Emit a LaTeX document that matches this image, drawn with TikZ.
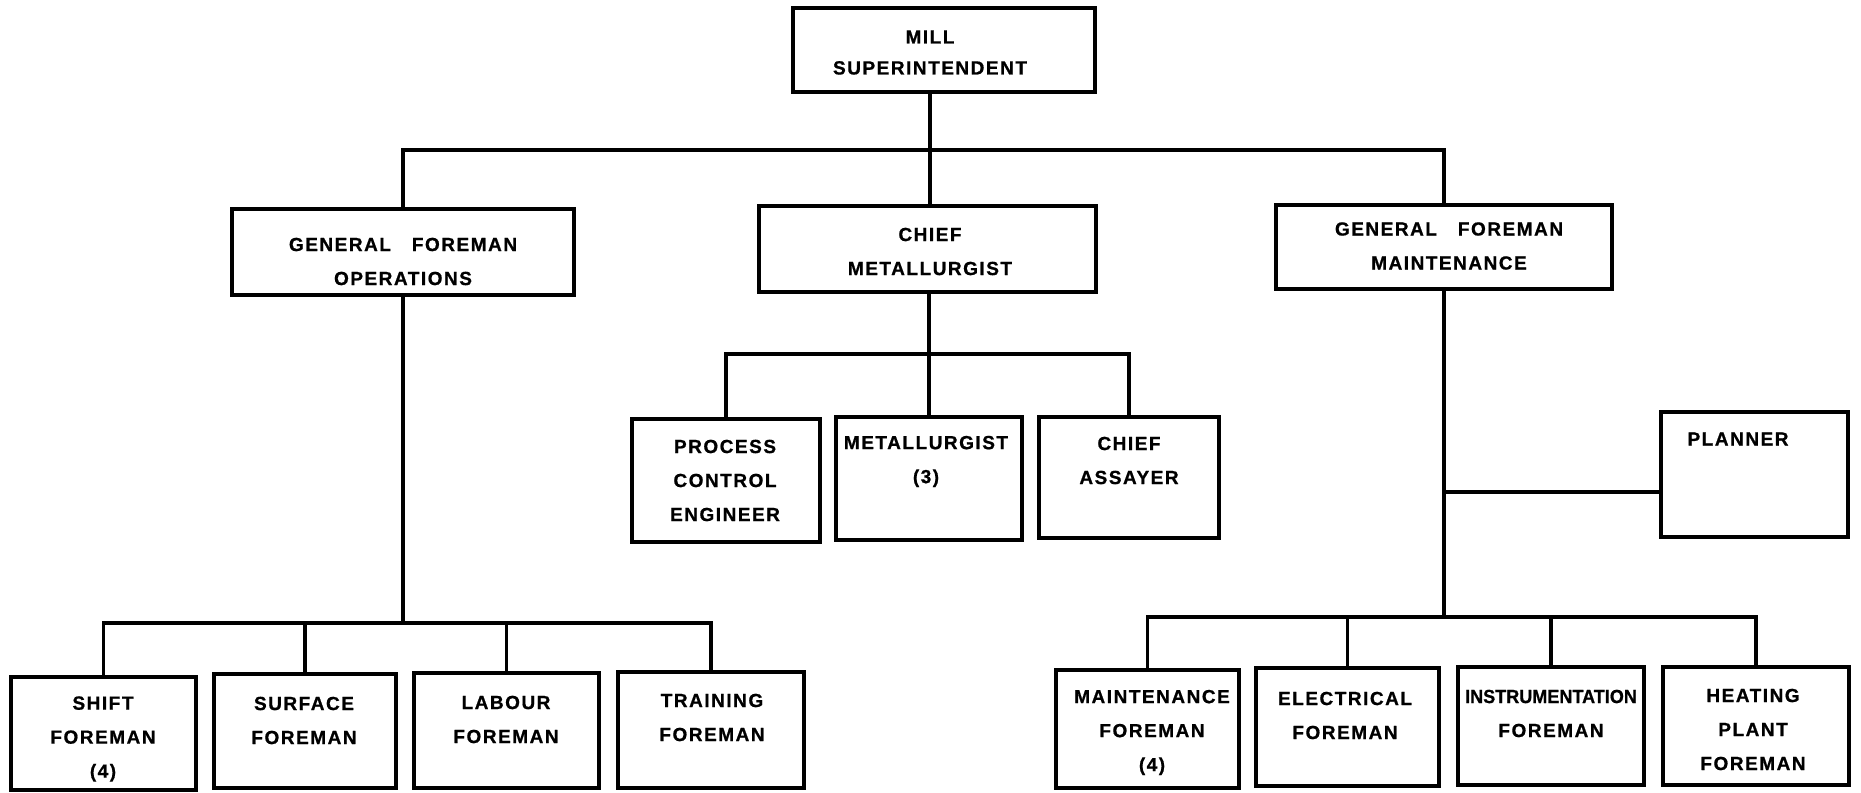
\documentclass[tikz,border=0pt]{standalone}
\usepackage{fontspec}
\setmainfont{Liberation Sans}
\newfontfamily\spacedfont[LetterSpace=8, BoldFeatures={FakeBold=0.8}]{Liberation Sans}
\newfontfamily\tightfont[LetterSpace=0, BoldFeatures={FakeBold=0.8}]{Liberation Sans}
\tikzset{
  orgbox/.style={draw, line width=1.6pt, rectangle, inner sep=0pt, outer sep=0pt},
  conn/.style={line width=1.6pt},
  lbl/.style={align=center, inner sep=0pt, font=\spacedfont\bfseries\fontsize{9.5}{17}\selectfont},
}
\newcommand\orgnode[5]{\node[orgbox, minimum width={(#4-#2)*0.5pt}, minimum height={(#5-#3)*0.5pt}] (#1) at ({(#2+#4)/2},{(#3+#5)/2}) {};}
\begin{document}
\begin{tikzpicture}[x=0.5pt,y=-0.5pt]
\path[fill=white] (0,0) rectangle (1861,792);
\useasboundingbox (0,0) rectangle (1861,792);
% boxes
\orgnode{mill}{793}{8}{1095}{92}
\orgnode{ops}{232}{209}{574}{295}
\orgnode{cm}{759}{206}{1096}{292}
\orgnode{maint}{1276}{205}{1612}{289}
\orgnode{proc}{632}{419}{820}{542}
\orgnode{met}{836}{417}{1022}{540}
\orgnode{assay}{1039}{417}{1219}{538}
\orgnode{planner}{1661}{412}{1848}{537}
\orgnode{shift}{11}{677}{196}{790}
\orgnode{surf}{214}{674}{396}{788}
\orgnode{lab}{414}{673}{599}{788}
\orgnode{train}{618}{672}{804}{788}
\orgnode{mf}{1056}{670}{1239}{788}
\orgnode{elec}{1256}{668}{1439}{786}
\orgnode{instr}{1458}{667}{1644}{785}
\orgnode{heat}{1663}{667}{1849}{785}
% labels
\node[lbl, font=\spacedfont\bfseries\fontsize{9.5}{15.5}\selectfont] (millT) at (930,52.5) {MILL\\SUPERINTENDENT};
\node[lbl] (opsT) at (403,261.5) {GENERAL\hspace{1.1em}FOREMAN\\OPERATIONS};
\node[lbl] (cmT) at (930,251.5) {CHIEF\\METALLURGIST};
\node[lbl] (maintT) at (1449,246) {GENERAL\hspace{1.1em}FOREMAN\\MAINTENANCE};
\node[lbl] (procT) at (725,480.5) {PROCESS\\CONTROL\\ENGINEER};
\node[lbl] (metT) at (926,461.5) {METALLURGIST\\(3)};
\node[lbl] (assayT) at (1129,460.5) {CHIEF\\ASSAYER};
\node[lbl] (plannerT) at (1738,439) {PLANNER};
\node[lbl] (shiftT) at (103,739) {SHIFT\\FOREMAN\\(4)};
\node[lbl] (surfT) at (304,720.5) {SURFACE\\FOREMAN};
\node[lbl] (labT) at (506,719.5) {LABOUR\\FOREMAN};
\node[lbl] (trainT) at (712,717.5) {TRAINING\\FOREMAN};
\node[lbl] (mfT) at (1152,732.5) {MAINTENANCE\\FOREMAN\\(4)};
\node[lbl] (elecT) at (1345,715.5) {ELECTRICAL\\FOREMAN};
\node[lbl] (instrT) at (1551,713.5) {\scalebox{0.95}[1]{\tightfont\bfseries INSTRUMENTATION}\\FOREMAN};
\node[lbl] (heatT) at (1753,729.5) {HEATING\\PLANT\\FOREMAN};
% connectors
\coordinate (b1) at (930,150);
\draw[conn] (mill.south -| b1) -- (cm.north -| b1);
\draw[conn] (ops.north) |- (b1) -| (maint.north);
\coordinate (b2) at (405,623);
\draw[conn] (ops.south) -- (ops.south |- b2);
\draw[conn] (shift.north) |- (b2) -| (train.north);
\draw[conn] (surf.north) -- (surf.north |- b2);
\draw[conn] (lab.north) -- (lab.north |- b2);
\coordinate (b3) at (929,354);
\draw[conn] (cm.south -| b3) -- (met.north -| b3);
\draw[conn] (proc.north) |- (b3) -| (assay.north);
\coordinate (b4) at (1444,617);
\coordinate (pj) at (1444,492);
\draw[conn] (maint.south) -- (maint.south |- b4);
\draw[conn] (pj) -- (pj -| planner.west);
\draw[conn] (mf.north) |- (b4) -| (heat.north);
\draw[conn] (elec.north) -- (elec.north |- b4);
\draw[conn] (instr.north) -- (instr.north |- b4);
\end{tikzpicture}
\end{document}
